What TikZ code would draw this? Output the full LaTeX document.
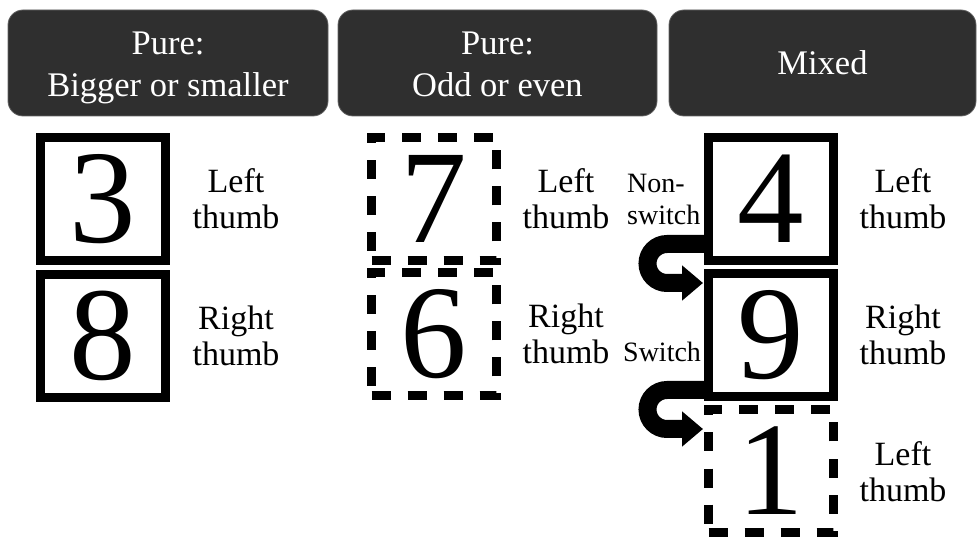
\documentclass[tikz,border=0pt]{standalone}
\usepackage{fontspec}
\setmainfont{Liberation Serif}
\usetikzlibrary{arrows.meta,calc}
\definecolor{hdr}{HTML}{2F2F2F}
\begin{document}
\begin{tikzpicture}[x=1pt,y=1pt,
  header/.style={fill=hdr, draw=hdr!75!white, line width=0.8pt, rounded corners=15pt,
    minimum height=106pt, inner sep=0pt},
  headtext/.style={text=white, font=\fontsize{34.5}{42}\selectfont, align=center,
    inner sep=0pt, anchor=north},
  digitbox/.style={draw, line width=9pt, minimum width=125pt, minimum height=123pt,
    inner sep=0pt, font=\fontsize{133}{140}\selectfont},
  dashbox/.style={digitbox, dash pattern=on 19pt off 17pt},
  thumb/.style={font=\fontsize{34}{36}\selectfont, align=center, inner sep=0pt},
  trans/.style={font=\fontsize{28}{32}\selectfont, align=left, inner sep=0pt},
  uturn/.style={line width=18pt, -{Triangle[length=21pt,width=34pt]}}
]
\useasboundingbox (0,0) rectangle (979,538);

% column headers (text top = top of the first line's strut)
\node[header, minimum width=320pt] (h1) at (168,475) {};
\node[header, minimum width=319pt] (h2) at (497.5,475) {};
\node[header, minimum width=307pt] (h3) at (822.5,475) {};
\node[headtext] (t1) at ($(h1.north)+(0,-15.6)$) {Pure:\strut\\Bigger or smaller\strut};
\node[headtext] (t2) at ($(h2.north)+(0,-15.6)$) {Pure:\strut\\Odd or even\strut};
\node[headtext] (t3) at ($(h3.north)+(0,-35.6)$) {Mixed\strut};

% pure: bigger or smaller
\node[digitbox] (b3) at (103,339) {3};
\node[digitbox] (b8) at (103,202) {8};
\node[thumb] (l3) at (236,339) {Left\\thumb};
\node[thumb] (l8) at (236,202) {Right\\thumb};

% pure: odd or even
\node[dashbox] (b7) at (434,339) {7};
\node[dashbox] (b6) at (434,204) {6};
\node[thumb] (l7) at (566,339) {Left\\thumb};
\node[thumb] (l6) at (566,204) {Right\\thumb};

% mixed
\node[digitbox] (b4) at (771,339) {4};
\node[digitbox] (b9) at (771,203) {9};
\node[dashbox] (b1) at (771,67) {1};
\node[thumb] (l4) at (903,339) {Left\\thumb};
\node[thumb] (l9) at (903,203) {Right\\thumb};
\node[thumb] (l1) at (903,66) {Left\\thumb};

\node[trans, anchor=west] (ns) at (627,339) {Non-\\switch};
\node[trans, anchor=base west] (sw) at (623,176) {Switch};

% transitions between trials
\draw[uturn] ($(b4.south west)+(2,21)$) -- ++(-39,0)
  arc[start angle=90, end angle=270, radius=19.5] -- ($(b9.north west)+(-1,-14)$);
\draw[uturn] ($(b9.south west)+(2,11)$) -- ++(-39,0)
  arc[start angle=90, end angle=270, radius=19.5] -- ($(b1.north west)+(-1,-24)$);
\end{tikzpicture}
\end{document}
